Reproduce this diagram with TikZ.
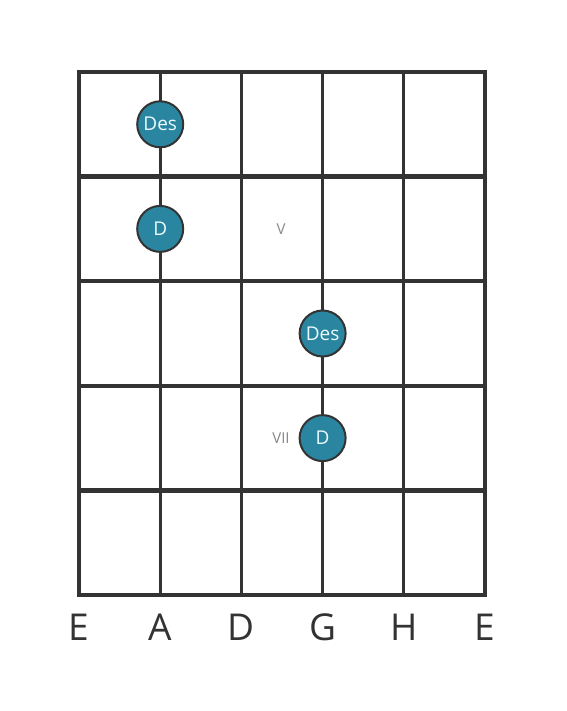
\documentclass[tikz,border=0pt]{standalone}
\usepackage{fontspec}
\setmainfont{Open Sans}
\definecolor{gridc}{HTML}{333333}
\definecolor{dotc}{HTML}{2A86A0}
\definecolor{dottext}{HTML}{EAFAFF}
\definecolor{markc}{HTML}{888888}
\begin{document}
\begin{tikzpicture}[x=1pt,y=-1pt,
  frame/.style={draw=gridc,line width=4.5pt},
  fret/.style={draw=gridc,line width=4.5pt},
  strng/.style={draw=gridc,line width=3pt},
  note/.style={circle,draw=gridc,line width=2pt,fill=dotc,minimum size=46pt,inner sep=0pt,text=dottext,font=\fontsize{19}{19}\selectfont},
  fretmark/.style={text=markc,font=\fontsize{15}{15}\selectfont},
  strlabel/.style={text=gridc,font=\fontsize{37}{37}\selectfont}]
\useasboundingbox (0,0) rectangle (566,711);
\fill[white] (0,0) rectangle (566,711);
% strings
\foreach \i in {1,2,3,4}{
  \draw[strng] ({79+81.2*\i},72) -- ({79+81.2*\i},595);
}
% frets
\foreach \j in {1,2,3,4}{
  \draw[fret] (79,{72+104.6*\j}) -- (485,{72+104.6*\j});
}
\draw[frame,line join=miter] (79,72) rectangle (485,595);
% fret markers
\node[fretmark] (m5) at (281,229) {V};
\node[fretmark] (m7) at (281,438) {VII};
% notes
\node[note] (n1) at (160.2,124.3) {Des};
\node[note] (n2) at (160.2,228.9) {D};
\node[note] (n3) at (322.6,333.5) {Des};
\node[note] (n4) at (322.6,438.1) {D};
% string labels
\node[strlabel] (s1) at (79,627) {E};
\node[strlabel] (s2) at (160.2,627) {A};
\node[strlabel] (s3) at (241.4,627) {D};
\node[strlabel] (s4) at (322.6,627) {G};
\node[strlabel] (s5) at (403.8,627) {H};
\node[strlabel] (s6) at (485,627) {E};
\end{tikzpicture}
\end{document}
